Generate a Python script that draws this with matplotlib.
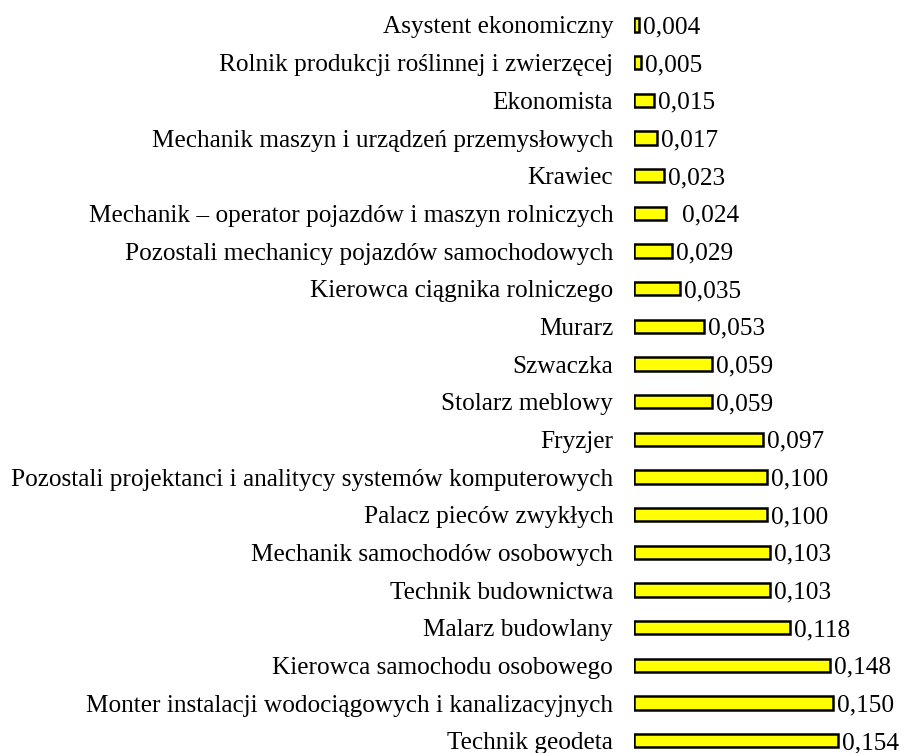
import matplotlib
matplotlib.use("Agg")
import matplotlib.pyplot as plt

categories = [
    "Asystent ekonomiczny",
    "Rolnik produkcji roślinnej i zwierzęcej",
    "Ekonomista",
    "Mechanik maszyn i urządzeń przemysłowych",
    "Krawiec",
    "Mechanik – operator pojazdów i maszyn rolniczych",
    "Pozostali mechanicy pojazdów samochodowych",
    "Kierowca ciągnika rolniczego",
    "Murarz",
    "Szwaczka",
    "Stolarz meblowy",
    "Fryzjer",
    "Pozostali projektanci i analitycy systemów komputerowych",
    "Palacz pieców zwykłych",
    "Mechanik samochodów osobowych",
    "Technik budownictwa",
    "Malarz budowlany",
    "Kierowca samochodu osobowego",
    "Monter instalacji wodociągowych i kanalizacyjnych",
    "Technik geodeta",
]
values = [0.004, 0.005, 0.015, 0.017, 0.023, 0.024, 0.029, 0.035, 0.053, 0.059,
          0.059, 0.097, 0.100, 0.100, 0.103, 0.103, 0.118, 0.148, 0.150, 0.154]
value_labels = ["0,004", "0,005", "0,015", "0,017", "0,023", "0,024", "0,029", "0,035",
                "0,053", "0,059", "0,059", "0,097", "0,100", "0,100", "0,103", "0,103",
                "0,118", "0,148", "0,150", "0,154"]

plt.rcParams['font.family'] = ['Liberation Serif', 'DejaVu Serif']

W, H = 907, 753
fig = plt.figure(figsize=(W / 100, H / 100), dpi=100)
left_px = 634
ax = fig.add_axes([left_px / W, 0, 1 - left_px / W, 1])

n = len(categories)
ypos = [n - 1 - i for i in range(n)]
ax.barh(ypos, values, height=0.36, color="#FFFF00", edgecolor="black", linewidth=1.8)

scale = 1325.0  # px per unit
ax.set_xlim(0, (W - left_px) / scale)
ax.set_ylim(-(753 - 740.7) / 37.67, 19 + 25 / 37.67)

FS = 18.2
for y, v, lab in zip(ypos, values, value_labels):
    off = 16 if lab == "0,024" else 4
    ax.annotate(lab, xy=(v, y), xytext=(off, 0), textcoords="offset pixels",
                va="center_baseline", ha="left", fontsize=FS)

ax.set_yticks(ypos)
ax.set_yticklabels(categories, fontsize=FS, va="center_baseline")
ax.tick_params(axis="y", length=0, pad=15)
ax.set_xticks([])
for s in ax.spines.values():
    s.set_visible(False)

fig.savefig("out.png", dpi=100)
